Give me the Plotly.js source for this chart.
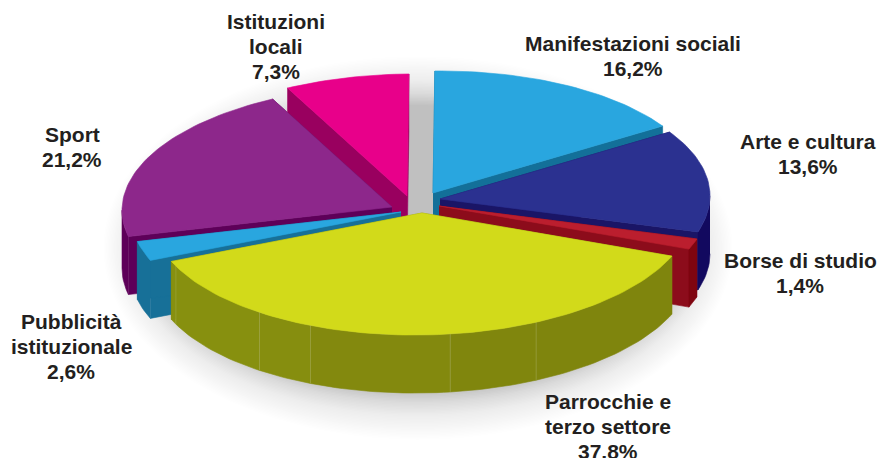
<!DOCTYPE html>
<html>
<head>
<meta charset="utf-8">
<script src="https://cdn.plot.ly/plotly-3.0.1.min.js"></script>
<style>html,body{margin:0;padding:0;background:#fff}#chart{width:878px;height:458px}</style>
</head>
<body>
<div id="chart"></div>
<script>
// ---- data ----
var categories = [["Manifestazioni sociali"], ["Arte e cultura"], ["Borse di studio"], ["Parrocchie e", "terzo settore"], ["Pubblicità", "istituzionale"], ["Sport"], ["Istituzioni", "locali"]];
var values = [16.2, 13.6, 1.4, 37.8, 2.6, 21.2, 7.3];

// ---- styling ----
var topColors  = ["#29a6df", "#2b3190", "#bb1e2e", "#d2da1a", "#29a6df", "#8d278b", "#e8008a"];
var cutColors  = ["#137099", "#1a1566", "#8c0c1b", "#828a10", "#177098", "#5e0059", "#99005f"];
var rimColors  = ["#137099", "#12095f", "#7f0510", "#828a10", "#177098", "#5e0059", "#99005f"];
var explodeX   = [433, 440, 439, 422, 401, 392, 407];
var explodeY   = [193, 199, 206, 213, 212, 207, 196];
var labelX     = [633, 808, 800, 608, 71, 72, 276];
var labelTop   = [43, 141, 260, 401, 321, 134, 21];
var lineStep   = 25;
var drawOrder  = [0, 6, 5, 1, 2, 4, 3];
var seamAngles = [155, 174, 204.4, 217, 245.7];
var seamShades = ["#7f850d", "#80860d", "#83890e", "#868e0f", "#87900f", "#87900f"];
var radiusX = 270, radiusY = 122, depth = 58, startAngle = 0, seamNudge = 0.4, tilt = -0.012;

var traces = [];
function poly(xs, ys, color) {
  traces.push({type: "scatter", mode: "lines", x: xs, y: ys, fill: "toself", fillcolor: color,
    line: {color: color, width: 0.6}, hoverinfo: "skip", showlegend: false});
}
function rimPoint(i, deg, drop) {
  var r = deg * Math.PI / 180, dx = radiusX * Math.sin(r);
  return [explodeX[i] + dx, explodeY[i] - radiusY * Math.cos(r) + tilt * dx + (drop || 0)];
}
function arc(i, a0, a1, drop) {
  var pts = [], n = Math.max(2, Math.ceil(Math.abs(a1 - a0) / 1.5));
  for (var k = 0; k <= n; k++) pts.push(rimPoint(i, a0 + (a1 - a0) * k / n, drop));
  return pts;
}
function polyPts(pts, color) {
  poly(pts.map(function (p) { return p[0]; }), pts.map(function (p) { return p[1]; }), color);
}

// soft drop shadow under the pie
for (var s = 0; s < 36; s++) {
  var sa = [], sx = 315 - s * 1.4, sy = 192 - s * 1.4;
  for (var d = 0; d <= 360; d += 3) {
    sa.push([418 + sx * Math.sin(d * Math.PI / 180), 248 - sy * Math.cos(d * Math.PI / 180)]);
  }
  traces.push({type: "scatter", mode: "lines", x: sa.map(function (p) { return p[0]; }), y: sa.map(function (p) { return p[1]; }),
    fill: "toself", fillcolor: "rgba(70,75,88," + (0.003 + 0.0004 * s).toFixed(4) + ")", line: {width: 0}, hoverinfo: "skip", showlegend: false});
}

// slice boundaries come straight from the values
var total = values.reduce(function (a, b) { return a + b; }, 0);
var bounds = [], acc = startAngle;
values.forEach(function (v) { bounds.push(acc); acc += v / total * 360; });
bounds.push(acc);

drawOrder.forEach(function (i) {
  var a0 = bounds[i] + (i === 0 ? seamNudge : 0);
  var a1 = bounds[i + 1] + (i === values.length - 1 ? seamNudge : 0);
  var tip = [explodeX[i], explodeY[i]];
  var tipLow = [explodeX[i], explodeY[i] + depth];
  // radial cut faces
  polyPts([tip, rimPoint(i, a0), rimPoint(i, a0, depth), tipLow], cutColors[i]);
  polyPts([tip, rimPoint(i, a1), rimPoint(i, a1, depth), tipLow], cutColors[i]);
  // outer rim, only where it faces the viewer
  var f0 = Math.max(a0, 90), f1 = Math.min(a1, 270);
  if (f1 > f0) {
    if (i === 3) {
      var cuts = [f0].concat(seamAngles).concat([f1]);
      for (var c = 0; c + 1 < cuts.length; c++) {
        polyPts(arc(i, cuts[c], cuts[c + 1], 0).concat(arc(i, cuts[c + 1], cuts[c], depth)), seamShades[c]);
      }
    } else {
      polyPts(arc(i, f0, f1, 0).concat(arc(i, f1, f0, depth)), rimColors[i]);
    }
  }
  // top face
  polyPts([tip].concat(arc(i, a0, a1, 0)).concat([tip]), topColors[i]);
});

// thin light seams on the big slice's rim
seamAngles.forEach(function (a) {
  var p = rimPoint(3, a), q = rimPoint(3, a, depth);
  traces.push({type: "scatter", mode: "lines", x: [p[0], q[0]], y: [p[1], q[1]],
    line: {color: "rgba(200,205,150,0.3)", width: 0.8}, hoverinfo: "skip", showlegend: false});
});

// labels, one annotation per line of text
var annotations = [];
values.forEach(function (v, i) {
  var lines = categories[i].concat([v.toFixed(1).replace(".", ",") + "%"]);
  lines.forEach(function (t, k) {
    annotations.push({
      x: labelX[i], y: labelTop[i] + k * lineStep, xref: "x", yref: "y", showarrow: false,
      xanchor: "center", yanchor: "middle", text: "<b>" + t + "</b>",
      font: {family: "Liberation Sans, Arial, sans-serif", size: 21, color: "#231f20"}
    });
  });
});

Plotly.newPlot("chart", traces, {
  width: 878, height: 458, margin: {l: 0, r: 0, t: 0, b: 0},
  paper_bgcolor: "#ffffff", plot_bgcolor: "#ffffff", showlegend: false,
  xaxis: {range: [0, 878], visible: false, fixedrange: true},
  yaxis: {range: [458, 0], visible: false, fixedrange: true},
  annotations: annotations
}, {displayModeBar: false, staticPlot: true});
</script>
</body>
</html>
